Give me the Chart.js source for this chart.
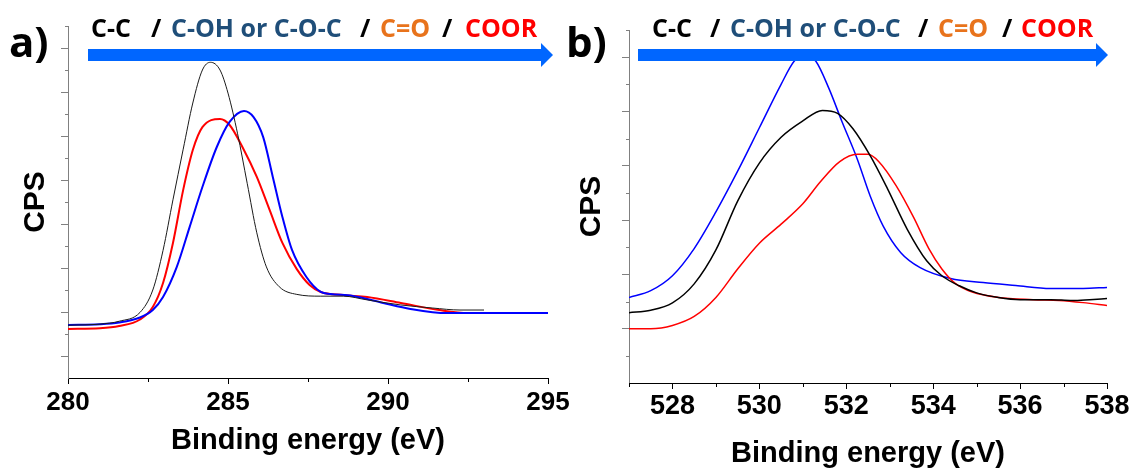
<!DOCTYPE html>
<html>
<head>
<meta charset="utf-8">
<script src="https://cdn.jsdelivr.net/npm/chart.js@4.4.1/dist/chart.umd.min.js"></script>
<style>
  html, body { margin: 0; padding: 0; background: #fff; }
  #wrap { position: relative; width: 1134px; height: 468px; overflow: hidden; }
  canvas { position: absolute; top: 0; }
  #c1s { left: 0; }
  #o1s { left: 567px; }
  .txt { position: absolute; font-family: "Open Sans", Lato, sans-serif; font-weight: 700; line-height: 1; white-space: pre; z-index: 2; }
  .hdr { font-size: 25px; top: 15px; }
  .panel { font-size: 42px; top: 20px; color: #000; }
  .k { color: #000; }
  .b { color: #1f4e79; }
  .o { color: #e8731c; }
  .r { color: #ff0000; }
  .arrow { position: absolute; top: 49px; height: 12px; background: #0066ff; z-index: 3; }
  .arrow::after { content: ''; position: absolute; right: -12px; top: -6px; border-left: 12px solid #0066ff; border-top: 12px solid transparent; border-bottom: 12px solid transparent; }
</style>
</head>
<body>
<div id="wrap">
  <canvas id="c1s" width="580" height="468"></canvas>
  <canvas id="o1s" width="567" height="468"></canvas>

  <div class="txt panel" style="left:9px">a)</div>
  <div class="txt hdr k" style="left:91px">C-C</div>
  <div class="txt hdr k" style="left:151px">/</div>
  <div class="txt hdr b" style="left:171px">C-OH or C-O-C</div>
  <div class="txt hdr k" style="left:360px">/</div>
  <div class="txt hdr o" style="left:380px">C=O</div>
  <div class="txt hdr k" style="left:442px">/</div>
  <div class="txt hdr r" style="left:465px">COOR</div>
  <div class="arrow" style="left:88px;width:453px"></div>

  <div class="txt panel" style="left:566px">b)</div>
  <div class="txt hdr k" style="left:652px">C-C</div>
  <div class="txt hdr k" style="left:710px">/</div>
  <div class="txt hdr b" style="left:730px">C-OH or C-O-C</div>
  <div class="txt hdr k" style="left:918px">/</div>
  <div class="txt hdr o" style="left:938px">C=O</div>
  <div class="txt hdr k" style="left:1002px">/</div>
  <div class="txt hdr r" style="left:1021px">COOR</div>
  <div class="arrow" style="left:638px;width:458px"></div>
</div>
<script>
// a) C1s region
const c1sEnergyBlack = [280, 281, 281.6, 282.25, 282.65, 282.97, 283.28, 283.6, 283.9, 284.2, 284.45, 284.75, 285.0, 285.3, 285.6, 285.9, 286.2, 286.6, 287.15, 287.9, 288.6, 289.35, 290.4, 291.4, 292.25, 293.0];
const c1sBlack = [2.40, 2.45, 2.58, 2.98, 4.0, 5.8, 8.1, 10.4, 12.5, 14.0, 14.35, 14.0, 12.95, 11.1, 8.85, 6.6, 5.05, 4.15, 3.8, 3.72, 3.72, 3.55, 3.32, 3.18, 3.09, 3.09];
const c1sEnergyRed = [280, 281, 281.6, 282.25, 282.65, 282.97, 283.28, 283.6, 283.9, 284.2, 284.75, 285.05, 285.45, 285.9, 286.3, 286.7, 287.15, 287.55, 287.9, 288.6, 289.35, 290.4, 291.6, 292.5, 293.5, 295];
const c1sRed = [2.23, 2.26, 2.36, 2.66, 3.23, 4.32, 6.14, 8.55, 10.36, 11.4, 11.77, 11.5, 10.5, 9.14, 7.64, 6.14, 4.95, 4.23, 3.91, 3.77, 3.68, 3.41, 3.09, 2.95, 2.95, 2.95];
const c1sEnergyBlue = [280, 281, 281.6, 282.25, 282.65, 282.97, 283.4, 283.8, 284.2, 284.65, 285.05, 285.5, 285.8, 286.1, 286.4, 286.7, 287.0, 287.45, 287.9, 288.2, 288.9, 289.85, 290.7, 291.85, 293.5, 295];
const c1sBlue = [2.41, 2.44, 2.52, 2.75, 3.09, 3.68, 5.05, 6.86, 8.68, 10.5, 11.64, 12.14, 11.86, 10.95, 9.14, 7.32, 5.82, 4.59, 3.91, 3.82, 3.73, 3.41, 3.14, 2.95, 2.95, 2.95];

const c1sTicksX = [280, 285, 290, 295];
const c1sMinorX = [282.5, 287.5, 292.5];
const c1sTicksY = [1, 3, 5, 7, 9, 11, 13, 15];
const c1sMinorY = [2, 4, 6, 8, 10, 12, 14, 16];

// b) O1s region
const o1sEnergyBlue = [527, 527.5, 528.0, 528.5, 529.0, 529.5, 530.0, 530.5, 530.8, 531.05, 531.3, 531.6, 531.9, 532.25, 532.55, 532.85, 533.25, 533.7, 534.4, 535.15, 535.9, 536.7, 537.45, 538];
const o1sBlue = [3.15, 3.4, 3.95, 4.95, 6.3, 7.8, 9.4, 11.0, 11.85, 12.1, 11.85, 10.85, 9.63, 8.26, 6.89, 5.78, 4.81, 4.25, 3.85, 3.7, 3.59, 3.48, 3.48, 3.52];
const o1sEnergyBlack = [527, 527.5, 528.0, 528.5, 529.0, 529.5, 530.0, 530.5, 531.0, 531.45, 531.8, 532.15, 532.55, 532.95, 533.4, 533.85, 534.2, 534.6, 535.0, 535.5, 536.0, 536.7, 537.2, 537.6, 538];
const o1sBlack = [2.59, 2.68, 2.95, 3.65, 4.9, 6.7, 8.1, 9.05, 9.65, 10.04, 9.93, 9.37, 8.37, 7.15, 5.67, 4.5, 3.95, 3.58, 3.32, 3.15, 3.07, 3.07, 3.04, 3.07, 3.11];
const o1sEnergyRed = [527, 527.5, 528.0, 528.5, 529.0, 529.5, 530.0, 530.5, 531.0, 531.4, 531.85, 532.25, 532.5, 532.75, 533.15, 533.55, 533.9, 534.2, 534.5, 534.9, 535.5, 536.3, 536.9, 537.45, 538];
const o1sRed = [2.0, 2.0, 2.12, 2.45, 3.15, 4.2, 5.15, 5.85, 6.6, 7.4, 8.15, 8.42, 8.42, 8.15, 7.26, 6.1, 4.95, 4.2, 3.68, 3.35, 3.15, 3.07, 3.04, 2.96, 2.85];

const o1sTicksX = [528, 530, 532, 534, 536, 538];
const o1sMinorX = [527, 529, 531, 533, 535, 537];
const o1sTicksY = [2, 4, 6, 8, 10, 12];
const o1sMinorY = [1, 3, 5, 7, 9, 11, 13];

const pts = (xs, ys) => xs.map((x, i) => ({ x: x, y: ys[i] }));

// short ticks between the labelled ones
const minorTicks = {
  id: 'minorTicks',
  afterDraw(chart, args, opts) {
    const ctx = chart.ctx;
    const sx = chart.scales.x, sy = chart.scales.y;
    const area = chart.chartArea;
    ctx.save();
    ctx.lineWidth = 1;
    ctx.strokeStyle = opts.yColor;
    opts.y.forEach(v => {
      const p = Math.round(sy.getPixelForValue(v)) + 0.5;
      ctx.beginPath();
      ctx.moveTo(area.left - opts.yLen, p);
      ctx.lineTo(area.left, p);
      ctx.stroke();
    });
    ctx.strokeStyle = opts.xColor;
    opts.x.forEach(v => {
      const p = Math.round(sx.getPixelForValue(v)) + 0.5;
      ctx.beginPath();
      ctx.moveTo(p, area.bottom);
      ctx.lineTo(p, area.bottom + opts.xLen);
      ctx.stroke();
    });
    ctx.restore();
  }
};

function line(data, color, width) {
  return {
    data: data,
    borderColor: color,
    borderWidth: width,
    pointRadius: 0,
    cubicInterpolationMode: 'monotone',
    fill: false,
  };
}

function spectrum(id, cfg) {
  new Chart(document.getElementById(id).getContext('2d'), {
    type: 'line',
    data: { datasets: cfg.datasets },
    plugins: [minorTicks],
    options: {
      responsive: false,
      animation: false,
      layout: { autoPadding: false, padding: cfg.padding },
      plugins: {
        legend: { display: false },
        tooltip: { enabled: false },
        minorTicks: { x: cfg.minorX, y: cfg.minorY, xLen: 4, yLen: 3, xColor: '#000', yColor: '#808080' },
      },
      scales: {
        x: {
          type: 'linear',
          min: cfg.xMin,
          max: cfg.xMax,
          afterBuildTicks: s => { s.ticks = cfg.ticksX.map(v => ({ value: v })); },
          afterFit: s => { s.height = cfg.xHeight; },
          border: { color: '#000', width: 1 },
          grid: { drawOnChartArea: false, drawTicks: true, tickLength: 6, tickColor: '#000' },
          ticks: {
            color: '#000',
            padding: cfg.xTickPad,
            maxRotation: 0,
            autoSkip: false,
            font: { family: 'Liberation Sans', size: cfg.tickSize, weight: 'bold' },
            callback: v => String(v),
          },
          title: {
            display: true,
            text: 'Binding energy (eV)',
            color: '#000',
            font: { family: 'Liberation Sans', size: 29, weight: 'bold' },
            padding: { top: 0, bottom: cfg.xTitlePad },
          },
        },
        y: {
          min: 0,
          max: cfg.yMax,
          afterBuildTicks: s => { s.ticks = cfg.ticksY.map(v => ({ value: v })); },
          afterFit: s => { s.width = cfg.yWidth; },
          border: { color: '#808080', width: 1 },
          grid: { drawOnChartArea: false, drawTicks: true, tickLength: 7, tickColor: '#808080' },
          ticks: { display: false },
          title: {
            display: true,
            text: 'CPS',
            color: '#000',
            font: { family: 'Liberation Sans', size: 30, weight: 'bold' },
            padding: { top: cfg.yTitlePad, bottom: 0 },
          },
        },
      },
    },
  });
}

spectrum('c1s', {
  datasets: [
    line(pts(c1sEnergyBlack, c1sBlack), '#1a1a1a', 1),
    line(pts(c1sEnergyBlue, c1sBlue), '#0000ff', 2),
    line(pts(c1sEnergyRed, c1sRed), '#ff0000', 2),
  ],
  padding: { top: 26, right: 32, bottom: 0, left: 0 },
  xMin: 280, xMax: 295, yMax: 16,
  ticksX: c1sTicksX, minorX: c1sMinorX, ticksY: c1sTicksY, minorY: c1sMinorY,
  xHeight: 90, yWidth: 68, tickSize: 26, xTickPad: 3, xTitlePad: 10, yTitlePad: 18,
});

spectrum('o1s', {
  datasets: [
    line(pts(o1sEnergyBlack, o1sBlack), '#000000', 1.5),
    line(pts(o1sEnergyRed, o1sRed), '#ff0000', 1.5),
    line(pts(o1sEnergyBlue, o1sBlue), '#0000ff', 1.5),
  ],
  padding: { top: 30, right: 27, bottom: 0, left: 0 },
  xMin: 527, xMax: 538, yMax: 13,
  ticksX: o1sTicksX, minorX: o1sMinorX, ticksY: o1sTicksY, minorY: o1sMinorY,
  xHeight: 85, yWidth: 62, tickSize: 27, xTickPad: 1, xTitlePad: -3, yTitlePad: 7,
});
</script>
</body>
</html>
